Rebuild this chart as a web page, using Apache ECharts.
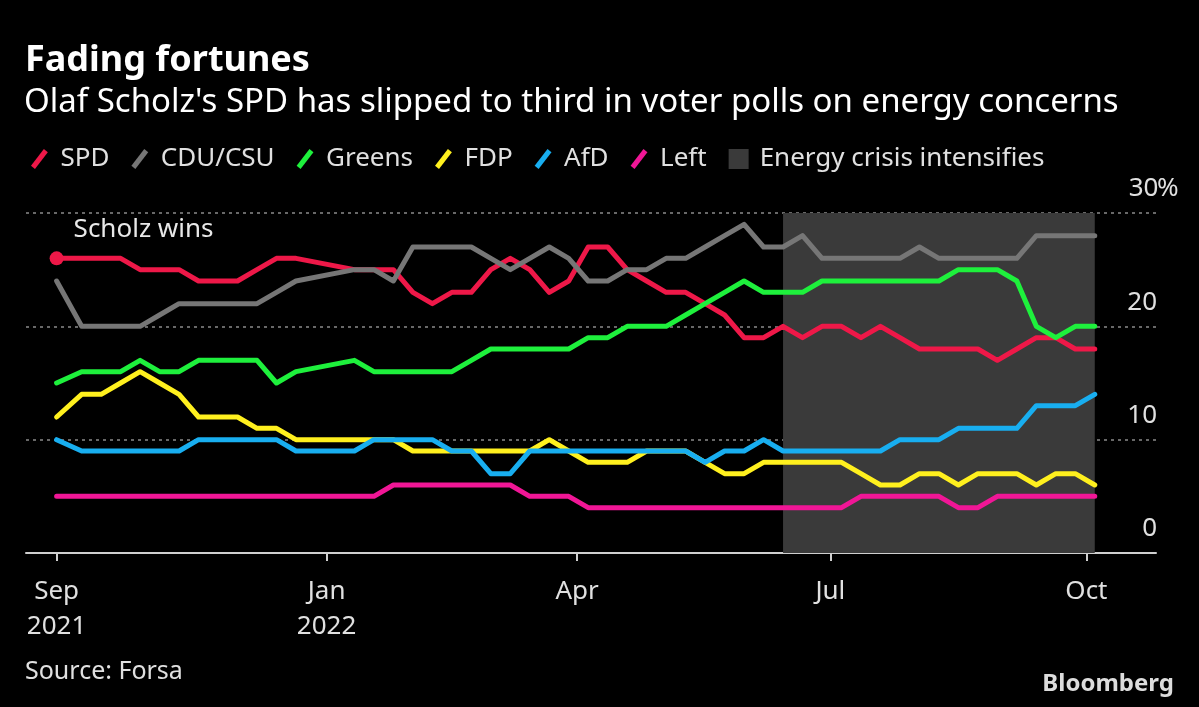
<!DOCTYPE html>
<html>
<head>
<meta charset="utf-8">
<script src="https://cdn.jsdelivr.net/npm/echarts@6/dist/echarts.min.js"></script>
<style>
html,body{margin:0;padding:0;background:#000;}
#chart{width:1199px;height:707px;}
</style>
</head>
<body>
<div id="chart"></div>
<script>
// Poll dates (election result + weekly Forsa polls)
const dates = [
  '2021-09-26','2021-10-05','2021-10-12','2021-10-19','2021-10-26','2021-11-02','2021-11-09',
  '2021-11-16','2021-11-23','2021-11-30','2021-12-07','2021-12-14','2021-12-21',
  '2022-01-11','2022-01-18','2022-01-25','2022-02-01','2022-02-08','2022-02-15','2022-02-22',
  '2022-03-01','2022-03-08','2022-03-15','2022-03-22','2022-03-29',
  '2022-04-05','2022-04-12','2022-04-19','2022-04-26','2022-05-03','2022-05-10','2022-05-17',
  '2022-05-24','2022-05-31','2022-06-07','2022-06-14','2022-06-21','2022-06-28',
  '2022-07-05','2022-07-12','2022-07-19','2022-07-26','2022-08-02','2022-08-09','2022-08-16',
  '2022-08-23','2022-08-30','2022-09-06','2022-09-13','2022-09-20','2022-09-27','2022-10-04'
];
const spd    = [26,26,26,26,25,25,25,24,24,24,25,26,26, 25,25,25,23,22,23,23,25,26,25,23,24, 27,27,25,24,23,23,22,21,19,19,20,19,20, 20,19,20,19,18,18,18,18,17,18,19,19,18,18];
const cdu    = [24,20,20,20,20,21,22,22,22,22,22,23,24, 25,25,24,27,27,27,27,26,25,26,27,26, 24,24,25,25,26,26,27,28,29,27,27,28,26, 26,26,26,26,27,26,26,26,26,26,28,28,28,28];
const greens = [15,16,16,16,17,16,16,17,17,17,17,15,16, 17,16,16,16,16,16,17,18,18,18,18,18, 19,19,20,20,20,21,22,23,24,23,23,23,24, 24,24,24,24,24,24,25,25,25,24,20,19,20,20];
const fdp    = [12,14,14,15,16,15,14,12,12,12,11,11,10, 10,10,10,9,9,9,9,9,9,9,10,9, 8,8,8,9,9,9,8,7,7,8,8,8,8, 8,7,6,6,7,7,6,7,7,7,6,7,7,6];
const afd    = [10,9,9,9,9,9,9,10,10,10,10,10,9, 9,10,10,10,10,9,9,7,7,9,9,9, 9,9,9,9,9,9,8,9,9,10,9,9,9, 9,9,9,10,10,10,11,11,11,11,13,13,13,14];
const left   = [5,5,5,5,5,5,5,5,5,5,5,5,5, 5,5,6,6,6,6,6,6,6,5,5,5, 4,4,4,4,4,4,4,4,4,4,4,4,4, 4,5,5,5,5,5,4,4,5,5,5,5,5,5];

const seriesNames = ['SPD','CDU/CSU','Greens','FDP','AfD','Left'];
const seriesColors = ['#ee1848','#767676','#1ef03c','#fff01e','#18aef0','#f01696'];
const seriesValues = [spd, cdu, greens, fdp, afd, left];

const crisisName = 'Energy crisis intensifies';
const crisisStart = '2022-06-14';
const crisisEnd = '2022-10-04';

const annotationText = 'Scholz wins';
const xMin = '2021-09-15';
const xMax = '2022-10-26';
const tickDates = ['2021-09-26','2022-01-01','2022-04-01','2022-07-01','2022-10-01'];
const yTicks = [0, 10, 20, 30];

const monthNames = ['Jan','Feb','Mar','Apr','May','Jun','Jul','Aug','Sep','Oct','Nov','Dec'];
function toTs(s){ const p = s.split('-').map(Number); return Date.UTC(p[0], p[1]-1, p[2]); }
const tickTs = tickDates.map(toTs);

const FONT = 'Noto Sans';
const slash = 'path://M0,17 L13,0 L17,3.2 L4,20.2 Z';

const chart = echarts.init(document.getElementById('chart'), null, {renderer:'canvas'});

const lineSeries = seriesNames.map((name, si) => {
  const data = dates.map((d, i) => [toTs(d), seriesValues[si][i]]);
  if (si === 0) {
    data[0] = {
      value: [toTs(dates[0]), spd[0]],
      symbol: 'circle',
      symbolSize: 14,
      label: {
        show: true, formatter: annotationText, position: 'right', distance: 10,
        offset: [0, -29], color: '#e8e8e8', fontSize: 26, fontFamily: FONT
      }
    };
  }
  return {
    name, type: 'line', data,
    symbol: 'none', showAllSymbol: true,
    lineStyle: { width: 5, color: seriesColors[si], join: 'round', cap: 'round' },
    itemStyle: { color: seriesColors[si] },
    emphasis: { disabled: true },
    animation: false,
    z: 3 + si
  };
});

const crisisSeries = {
  name: crisisName, type: 'line', data: [],
  itemStyle: { color: '#3a3a3a' },
  lineStyle: { color: '#3a3a3a' },
  animation: false,
  markArea: {
    silent: true,
    itemStyle: { color: '#3a3a3a' },
    data: [[{ xAxis: toTs(crisisStart) }, { xAxis: toTs(crisisEnd) }]]
  },
  z: 1
};

const option = {
  backgroundColor: '#000',
  animation: false,
  textStyle: { fontFamily: FONT },
  title: [
    { text: 'Fading fortunes', left: 20, top: 38,
      textStyle: { color: '#fff', fontSize: 36, fontWeight: 'bold', fontFamily: FONT } },
    { text: "Olaf Scholz's SPD has slipped to third in voter polls on energy concerns", left: 19, top: 81,
      textStyle: { color: '#fff', fontSize: 33, fontWeight: 'normal', fontFamily: FONT } },
    { text: 'Source: Forsa', left: 20, top: 654,
      textStyle: { color: '#e0e0e0', fontSize: 25, fontWeight: 'normal', fontFamily: FONT } },
    { text: 'Bloomberg', right: 20, top: 667,
      textStyle: { color: '#dcdcdc', fontSize: 24, fontWeight: 'bold', fontFamily: FONT } }
  ],
  legend: {
    left: 26, top: 141,
    itemWidth: 20, itemHeight: 20, itemGap: 22,
    selectedMode: false,
    textStyle: { color: '#e0e0e0', fontSize: 26, fontFamily: FONT, padding: [0,0,0,6] },
    data: seriesNames.map((n) => ({ name: n, icon: slash })).concat([{ name: crisisName, icon: 'rect' }])
  },
  grid: { left: 26, right: 43, top: 213, bottom: 154, containLabel: false },
  xAxis: {
    type: 'value', min: toTs(xMin), max: toTs(xMax), scale: true,
    axisLine: { show: true, lineStyle: { color: '#cfcfcf', width: 2 } },
    axisTick: { show: true, length: 8, lineStyle: { color: '#cfcfcf', width: 2 }, customValues: tickTs },
    splitLine: { show: false },
    axisLabel: {
      customValues: tickTs,
      color: '#e0e0e0', fontSize: 26, fontFamily: FONT, lineHeight: 35, margin: 21,
      formatter: function (v) {
        const d = new Date(v);
        const mi = d.getUTCMonth();
        const m = monthNames[mi];
        if (mi === 0 || (mi === 8 && d.getUTCFullYear() === 2021)) return m + '\n' + d.getUTCFullYear();
        return m;
      }
    }
  },
  yAxis: {
    type: 'value', position: 'right', min: 0, max: 30, interval: 10,
    axisLine: { show: false }, axisTick: { show: false },
    splitLine: { show: true, lineStyle: { color: '#8a8a8a', width: 1.5, type: [3, 4] } },
    axisLabel: {
      inside: false, margin: -26, align: 'left', verticalAlign: 'bottom',
      color: '#e0e0e0', fontSize: 26, fontFamily: FONT, padding: [0, 0, 11, 0],
      formatter: function (v) { return v === 30 ? '{n|30}%' : '{n|' + v + '}'; },
      rich: { n: { width: 27, align: 'right', color: '#e0e0e0', fontSize: 26, fontFamily: FONT } }
    }
  },
  series: [crisisSeries].concat(lineSeries)
};
chart.setOption(option);
</script>
</body>
</html>
